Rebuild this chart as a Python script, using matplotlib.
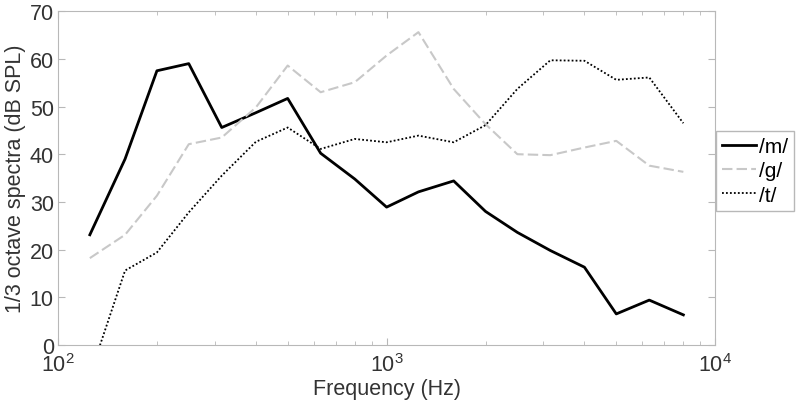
import matplotlib
matplotlib.use("Agg")
from matplotlib import pyplot as plt

plt.rcParams['font.family'] = ['Liberation Sans', 'DejaVu Sans']

freqs = [125, 160, 200, 250, 315, 400, 500, 630, 800, 1000,
         1250, 1600, 2000, 2500, 3150, 4000, 5000, 6300, 8000]
m_vals = [23.1, 39.0, 57.5, 59.0, 45.6, 48.7, 51.7, 40.2, 34.8, 28.9,
          32.1, 34.4, 28.0, 23.6, 19.8, 16.3, 6.5, 9.4, 6.3]
g_vals = [18.2, 23.1, 31.3, 42.1, 43.5, 49.8, 58.6, 53.0, 55.1, 60.7,
          65.6, 53.7, 46.3, 40.0, 39.8, 41.4, 42.8, 37.6, 36.3]
t_vals = [-6.4, 15.6, 19.4, 27.8, 35.5, 42.6, 45.6, 41.1, 43.2, 42.5,
          43.9, 42.5, 46.1, 53.7, 59.7, 59.6, 55.6, 56.1, 46.5]

fig = plt.figure(figsize=(8, 4.06), dpi=100)
ax = fig.add_axes([0.0725, 0.148, 0.8215, 0.822])

ax.plot(freqs, m_vals, color='black', lw=2, label='/m/')
ax.plot(freqs, g_vals, color='#c8c8c8', lw=1.5, ls=(0, (5, 2)), label='/g/')
ax.plot(freqs, t_vals, color='black', lw=1.3, ls=(0, (1, 1.2)), label='/t/')

ax.set_xscale('log')
ax.set_xlim(100, 10000)
ax.set_ylim(0, 70)
ax.set_yticks(range(0, 71, 10))
ax.set_xlabel('Frequency (Hz)', fontsize=15.5, color='#333333', labelpad=1)
ax.set_ylabel('1/3 octave spectra (dB SPL)', fontsize=15.5, color='#333333', labelpad=3)

for s in ax.spines.values():
    s.set_color('#b8b8b8')
ax.tick_params(which='both', direction='in', top=True, right=True,
               colors='#b8b8b8', labelcolor='#333333', labelsize=15.5)
ax.tick_params(which='major', length=5)
ax.tick_params(which='minor', length=3)
ax.tick_params(axis='x', pad=6)
ax.tick_params(axis='y', pad=3)

leg = fig.legend(loc='upper left', bbox_to_anchor=(0.895, 0.675), fontsize=15,
                 handlelength=1.6, handletextpad=0.15, borderpad=0.3,
                 borderaxespad=0, labelspacing=0.25, fancybox=False, framealpha=1)
leg.get_frame().set_edgecolor('#b8b8b8')

fig.savefig('out.png', dpi=100)
